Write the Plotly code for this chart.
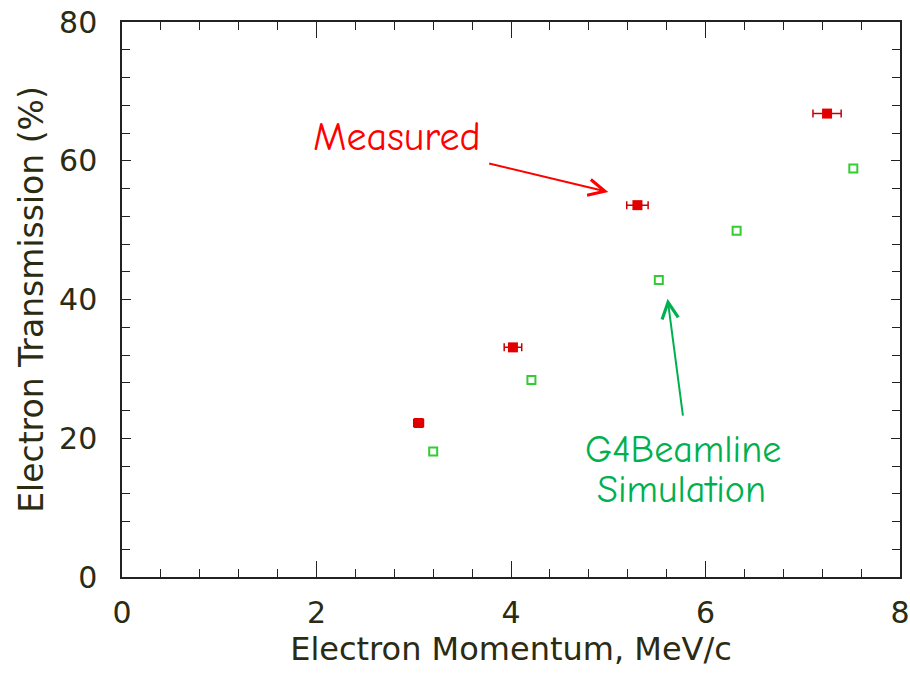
import plotly.graph_objects as go

# Measured electron transmission (red, with momentum error bars)
meas_p = [3.05, 4.02, 5.30, 7.25]
meas_t = [22.2, 33.1, 53.6, 66.8]
meas_dp = [0.05, 0.09, 0.11, 0.145]

# G4Beamline simulation (green open squares)
sim_p = [3.20, 4.21, 5.52, 6.32, 7.52]
sim_t = [18.1, 28.4, 42.8, 49.9, 58.9]

x_ticks = [0, 2, 4, 6, 8]
y_ticks = [0, 20, 40, 60, 80]

axis_color = "#2b2b12"
font_axes = "DejaVu Sans"
font_note = "Comic Sans MS, Comic Neue, DejaVu Sans"

fig = go.Figure()

fig.add_trace(go.Scatter(
    x=meas_p, y=meas_t, mode="markers",
    marker=dict(symbol="square", size=10, color="#e00000",
                line=dict(width=0)),
    error_x=dict(type="data", array=meas_dp, visible=True,
                 color="#c80000", thickness=1.5, width=4),
    showlegend=False,
))

fig.add_trace(go.Scatter(
    x=sim_p, y=sim_t, mode="markers",
    marker=dict(symbol="square-open", size=8, color="#33cc33",
                line=dict(width=2, color="#33cc33")),
    showlegend=False,
))

axis_common = dict(
    showline=True, linecolor="#222", linewidth=1.5, mirror="allticks",
    ticks="inside", tickcolor="#222", tickwidth=1.3,
    showgrid=False, zeroline=False, automargin=False,
    tickfont=dict(family=font_axes, size=30, color=axis_color),
)

fig.update_xaxes(
    range=[0, 8], tickvals=x_ticks, ticklen=16, ticklabelstandoff=8,
    minor=dict(dtick=0.4, ticks="inside", ticklen=8, tickcolor="#222",
               tickwidth=1.2, showgrid=False),
    title=dict(text="Electron Momentum, MeV/c", standoff=8,
               font=dict(family=font_axes, size=32, color=axis_color)),
    **axis_common,
)
fig.update_yaxes(
    range=[0, 80], tickvals=y_ticks, ticklen=9, ticklabelstandoff=17,
    minor=dict(dtick=4, ticks="inside", ticklen=8, tickcolor="#222",
               tickwidth=1.2, showgrid=False),
    title=dict(text="Electron Transmission (%)", standoff=6,
               font=dict(family=font_axes, size=33, color=axis_color)),
    **axis_common,
)

# Callout labels
fig.add_annotation(x=2.83, y=63.4, text="Measured", showarrow=False,
                   font=dict(family=font_note, size=40, color="#ff0000"))
fig.add_annotation(x=5.00, y=55.5, ax=3.76, ay=59.65,
                   axref="x", ayref="y", text="", showarrow=True,
                   arrowhead=5, arrowsize=1.6, arrowwidth=2,
                   arrowcolor="#ff0000")

fig.add_annotation(x=5.77, y=18.3, text="G4Beamline", showarrow=False,
                   font=dict(family=font_note, size=38, color="#00b050"))
fig.add_annotation(x=5.75, y=12.6, text="Simulation", showarrow=False,
                   font=dict(family=font_note, size=38, color="#00b050"))
fig.add_annotation(x=5.61, y=40.1, ax=5.77, ay=23.05,
                   axref="x", ayref="y", text="", showarrow=True,
                   arrowhead=5, arrowsize=1.6, arrowwidth=2,
                   arrowcolor="#00b050")

fig.update_layout(
    width=910, height=673,
    margin=dict(l=122, r=10, t=22, b=96),
    paper_bgcolor="white", plot_bgcolor="white",
)

fig.write_html("out.html")
